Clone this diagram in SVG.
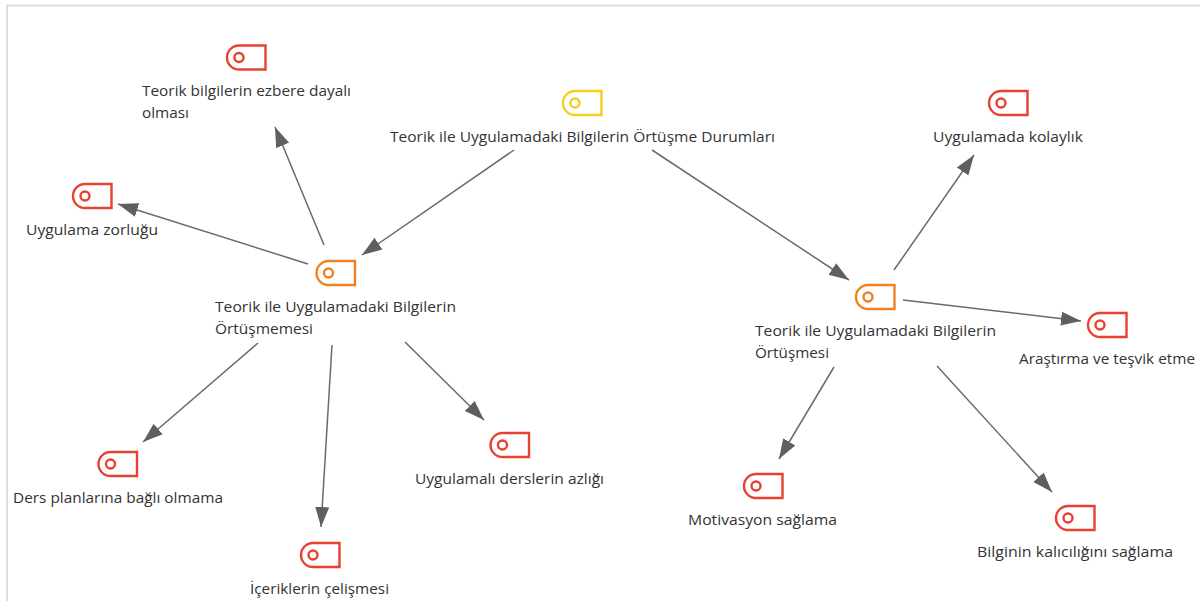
<svg xmlns="http://www.w3.org/2000/svg" width="1200" height="601" viewBox="0 0 1200 601">
<style>
text{font-family:"Open Sans","Noto Sans","Liberation Sans",sans-serif;font-size:15.3px;fill:#333}
.i{fill:#fff;stroke-width:2.4}
.r{stroke:#e8412f}.o{stroke:#f08020}.y{stroke:#f2cf1f}
#c line{stroke:#6a6a6a;stroke-width:1.5}
</style>
<defs>
<marker id="a" markerUnits="userSpaceOnUse" markerWidth="22" markerHeight="16" refX="20" refY="8" orient="auto"><path d="M0 1L20 8L0 15Z" fill="#5f5f5f"/></marker>
<g id="t"><path d="M39 .5V24.500H12.500A12 12 0 0 1 12.500 .5Z"/><circle cx="12.500" cy="12.500" r="4.500"/></g>
</defs>
<rect width="1200" height="601" fill="#fff"/>
<path d="M1200 5.500H7V601" fill="none" stroke="#dcdcdc" stroke-width="2"/>
<g id="c">
<line x1="324" y1="245" x2="275" y2="127" marker-end="url(#a)"/>
<line x1="308" y1="264" x2="118" y2="204" marker-end="url(#a)"/>
<line x1="514" y1="150" x2="362" y2="255" marker-end="url(#a)"/>
<line x1="652" y1="150" x2="849" y2="280" marker-end="url(#a)"/>
<line x1="894" y1="270" x2="974" y2="155" marker-end="url(#a)"/>
<line x1="903" y1="300" x2="1081" y2="321" marker-end="url(#a)"/>
<line x1="258" y1="343" x2="143" y2="442" marker-end="url(#a)"/>
<line x1="332" y1="345" x2="321" y2="527" marker-end="url(#a)"/>
<line x1="405" y1="342" x2="484" y2="420" marker-end="url(#a)"/>
<line x1="834" y1="367" x2="779" y2="459" marker-end="url(#a)"/>
<line x1="937" y1="366" x2="1052" y2="492" marker-end="url(#a)"/>
</g>
<g id="n0"><use href="#t" x="562.500" y="90.500" class="i y"/><text x="390" y="142" textLength="385" lengthAdjust="spacingAndGlyphs">Teorik ile Uygulamadaki Bilgilerin Örtüşme Durumları</text></g>
<g id="n1"><use href="#t" x="316" y="260.500" class="i o"/><text x="215" y="312" textLength="241" lengthAdjust="spacingAndGlyphs">Teorik ile Uygulamadaki Bilgilerin</text><text x="215" y="334" textLength="98" lengthAdjust="spacingAndGlyphs">Örtüşmemesi</text></g>
<g id="n2"><use href="#t" x="855.500" y="284.500" class="i o"/><text x="755" y="336" textLength="241" lengthAdjust="spacingAndGlyphs">Teorik ile Uygulamadaki Bilgilerin</text><text x="755" y="358" textLength="74" lengthAdjust="spacingAndGlyphs">Örtüşmesi</text></g>
<g id="n3"><use href="#t" x="226.500" y="45" class="i r"/><text x="142" y="96" textLength="209" lengthAdjust="spacingAndGlyphs">Teorik bilgilerin ezbere dayalı</text><text x="142" y="118" textLength="47" lengthAdjust="spacingAndGlyphs">olması</text></g>
<g id="n4"><use href="#t" x="72.500" y="183.500" class="i r"/><text x="26" y="235" textLength="132" lengthAdjust="spacingAndGlyphs">Uygulama zorluğu</text></g>
<g id="n5"><use href="#t" x="98" y="451.500" class="i r"/><text x="13" y="503" textLength="210" lengthAdjust="spacingAndGlyphs">Ders planlarına bağlı olmama</text></g>
<g id="n6"><use href="#t" x="300.500" y="542.500" class="i r"/><text x="250" y="594" textLength="139" lengthAdjust="spacingAndGlyphs">İçeriklerin çelişmesi</text></g>
<g id="n7"><use href="#t" x="490" y="432.500" class="i r"/><text x="415" y="484" textLength="189" lengthAdjust="spacingAndGlyphs">Uygulamalı derslerin azlığı</text></g>
<g id="n8"><use href="#t" x="743.500" y="473.500" class="i r"/><text x="688" y="525" textLength="149" lengthAdjust="spacingAndGlyphs">Motivasyon sağlama</text></g>
<g id="n9"><use href="#t" x="1055.500" y="505.500" class="i r"/><text x="977" y="557" textLength="196" lengthAdjust="spacingAndGlyphs">Bilginin kalıcılığını sağlama</text></g>
<g id="n10"><use href="#t" x="988.500" y="90.500" class="i r"/><text x="933" y="142" textLength="150" lengthAdjust="spacingAndGlyphs">Uygulamada kolaylık</text></g>
<g id="n11"><use href="#t" x="1087.500" y="312.500" class="i r"/><text x="1019" y="364" textLength="176" lengthAdjust="spacingAndGlyphs">Araştırma ve teşvik etme</text></g>
</svg>
